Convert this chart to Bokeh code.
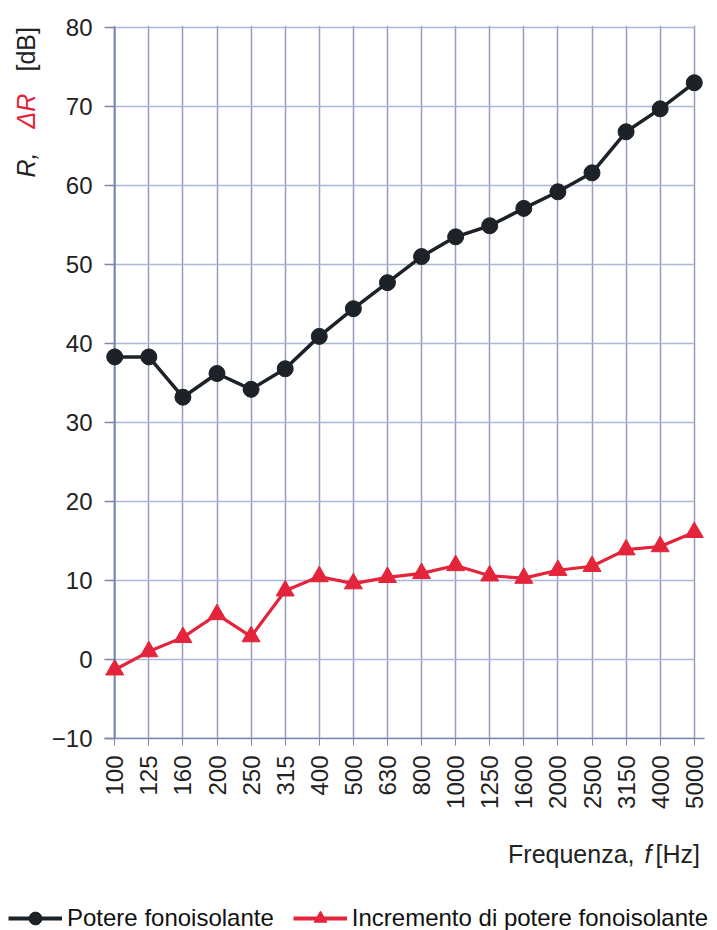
from bokeh.plotting import figure
from bokeh.models import Range1d, FixedTicker, Label, Legend, LegendItem
from bokeh.layouts import column, row
from bokeh.embed import file_html
from bokeh.resources import INLINE
import math

freqs = ["100", "125", "160", "200", "250", "315", "400", "500", "630", "800",
         "1000", "1250", "1600", "2000", "2500", "3150", "4000", "5000"]
r_values = [38.3, 38.3, 33.2, 36.2, 34.2, 36.8, 40.9, 44.4, 47.7, 51.0,
            53.5, 54.9, 57.1, 59.2, 61.6, 66.8, 69.7, 73.0]
dr_values = [-1.3, 1.0, 2.8, 5.7, 2.9, 8.7, 10.5, 9.6, 10.4, 10.9,
             11.9, 10.6, 10.3, 11.3, 11.8, 13.9, 14.3, 16.1]
y_ticks = [-10, 0, 10, 20, 30, 40, 50, 60, 70, 80]
series_names = ["Potere fonoisolante", "Incremento di potere fonoisolante"]

BLACK = "#1c2228"
RED = "#e3243b"
HGRID = "#aab6da"
VGRID = "#939cbb"
AXIS = "#7d89ab"
TXT = "#222222"
FONT = "Liberation Sans"

xs = list(range(len(freqs)))

# ---------- main chart ----------
p = figure(width=669, height=832,
           x_range=Range1d(-0.3, len(freqs) - 1 + 0.3),
           y_range=Range1d(y_ticks[0], y_ticks[-1] + 0.25),
           output_backend="svg", toolbar_location=None,
           min_border_left=54, min_border_right=13,
           min_border_top=25, min_border_bottom=94)
p.outline_line_color = None

p.ygrid.visible = False
p.xgrid.ticker = FixedTicker(ticks=xs)
p.xgrid.grid_line_color = VGRID
p.xgrid.grid_line_width = 1.5
p.segment(x0=[0] * len(y_ticks), x1=[len(freqs) - 1] * len(y_ticks),
          y0=y_ticks, y1=y_ticks, line_color=HGRID, line_width=1.5)
p.segment(x0=[0], x1=[0], y0=[y_ticks[0]], y1=[y_ticks[-1]],
          line_color=AXIS, line_width=2)

p.yaxis.ticker = FixedTicker(ticks=y_ticks)
p.yaxis.axis_line_color = None
p.yaxis.major_tick_out = 0
p.yaxis.major_tick_in = 10
p.yaxis.major_tick_line_color = AXIS
p.yaxis.major_tick_line_width = 1.5
p.yaxis.minor_tick_line_color = None
p.yaxis.major_label_standoff = 12
p.yaxis.major_label_text_font = FONT
p.yaxis.major_label_text_font_size = "24px"
p.yaxis.major_label_text_color = TXT

p.xaxis.ticker = FixedTicker(ticks=xs)
p.xaxis.major_label_overrides = {i: f for i, f in enumerate(freqs)}
p.xaxis.major_label_orientation = math.pi / 2
p.xaxis.axis_line_color = AXIS
p.xaxis.axis_line_width = 1.5
p.xaxis.major_tick_out = 7
p.xaxis.major_tick_in = 0
p.xaxis.major_tick_line_color = AXIS
p.xaxis.minor_tick_line_color = None
p.xaxis.major_label_standoff = 10
p.xaxis.major_label_text_font = FONT
p.xaxis.major_label_text_font_size = "24px"
p.xaxis.major_label_text_color = TXT

p.line(xs, r_values, line_color=BLACK, line_width=3.5)
p.scatter(xs, r_values, marker="circle", size=16, fill_color=BLACK, line_color=BLACK)
p.line(xs, dr_values, line_color=RED, line_width=3.2)
p.scatter(xs, dr_values, marker="triangle", size=18, fill_color=RED, line_color=RED)

# ---------- left strip: y title (frame aligned with main chart frame) ----------
pl = figure(width=48, height=832, x_range=Range1d(0, 1), y_range=Range1d(0, 1),
            x_axis_type=None, y_axis_type=None,
            output_backend="svg", toolbar_location=None,
            min_border_left=0, min_border_right=0,
            min_border_top=25, min_border_bottom=94)
pl.outline_line_color = None
for txt, y, style, col in [("R,", 561, "italic", TXT),
                           ("\u0394R", 610, "italic", RED),
                           ("[dB]", 667, "normal", TXT)]:
    pl.add_layout(Label(x=25, y=y, x_units="screen", y_units="screen", text=txt,
                        angle=math.pi / 2, text_font=FONT, text_font_size="25px",
                        text_font_style=style, text_color=col,
                        text_align="left", text_baseline="alphabetic"))

# ---------- bottom strip: x title and legend ----------
pb = figure(width=717, height=98, x_range=Range1d(1000, 1001), y_range=Range1d(1000, 1001),
            x_axis_type=None, y_axis_type=None,
            output_backend="svg", toolbar_location=None, min_border=0)
pb.outline_line_color = None
for txt, x, style, align in [("Frequenza,", 634, "normal", "right"),
                             ("f", 644, "italic", "left"),
                             ("[Hz]", 655, "normal", "left")]:
    pb.add_layout(Label(x=x, y=77, x_units="screen", y_units="screen", text=txt,
                        text_font=FONT, text_font_size="25px", text_font_style=style,
                        text_color=TXT, text_align=align, text_baseline="alphabetic"))

# legend glyphs come from the series renderers (their data lies outside this strip's view)
l1 = pb.line(xs, r_values, line_color=BLACK, line_width=4)
m1 = pb.scatter(xs, r_values, marker="circle", size=16, fill_color=BLACK, line_color=BLACK)
l2 = pb.line(xs, dr_values, line_color=RED, line_width=4)
m2 = pb.scatter(xs, dr_values, marker="triangle", size=18, fill_color=RED, line_color=RED)
legend = Legend(items=[LegendItem(label=series_names[0], renderers=[l1, m1]),
                       LegendItem(label=series_names[1], renderers=[l2, m2])],
                orientation="horizontal", location=(8, -4),
                padding=0, margin=0, spacing=19, label_standoff=5,
                glyph_width=54, glyph_height=32, label_height=32,
                label_text_font=FONT, label_text_font_size="24px",
                label_text_color="#111111",
                background_fill_alpha=0, border_line_color=None)
pb.add_layout(legend, "center")

layout = column(row(pl, p), pb)
open("out.html", "w").write(file_html(layout, INLINE))
